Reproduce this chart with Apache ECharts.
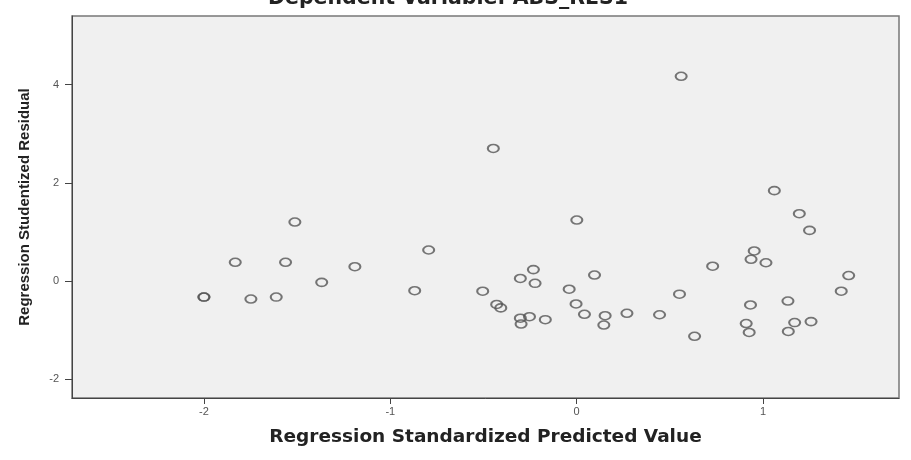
<!DOCTYPE html>
<html>
<head>
<meta charset="utf-8">
<script src="https://cdn.jsdelivr.net/npm/echarts@6/dist/echarts.min.js"></script>
<style>html,body{margin:0;padding:0;background:#fff;}#c{width:911px;height:460px;}</style>
</head>
<body>
<div id="c"></div>
<script>
const titleText = 'Dependent Variable: ABS_RES1';
const xAxisName = 'Regression Standardized Predicted Value';
const yAxisName = 'Regression Studentized Residual';
const xTicks = [-2, -1, 0, 1];
const yTicks = [-2, 0, 2, 4];
const xRange = [-2.708, 1.73];
const yRange = [-2.387, 5.40];
const xValues = [-2.000,-2.000,-1.832,-1.748,-1.612,-1.562,-1.512,-1.368,-1.190,-0.869,
  -0.794,-0.504,-0.447,-0.429,-0.407,-0.302,-0.232,-0.223,-0.302,-0.298,
  -0.253,-0.168,-0.040,-0.003,0.096,0.042,0.153,0.146,0.270,0.445,
  0.552,0.633,0.730,0.001,0.561,1.061,1.195,1.250,0.953,0.936,
  1.016,1.460,1.420,0.933,1.134,0.910,0.926,1.170,1.258,1.136];
const yValues = [-0.33,-0.33,0.38,-0.37,-0.33,0.38,1.20,-0.03,0.29,-0.20,
  0.63,-0.21,2.70,-0.48,-0.55,0.05,0.23,-0.05,-0.76,-0.88,
  -0.73,-0.79,-0.17,-0.47,0.12,-0.68,-0.71,-0.90,-0.66,-0.69,
  -0.27,-1.13,0.30,1.24,4.17,1.84,1.37,1.03,0.61,0.44,
  0.37,0.11,-0.21,-0.49,-0.41,-0.87,-1.05,-0.85,-0.83,-1.03];

const points = xValues.map((x, i) => [x, yValues[i]]);
const chart = echarts.init(document.getElementById('c'));
chart.setOption({
  animation: false,
  backgroundColor: '#ffffff',
  title: {
    text: titleText,
    left: 448,
    textAlign: 'center',
    top: -12,
    padding: 0,
    textStyle: {fontFamily: 'DejaVu Sans', fontWeight: 'bold', fontSize: 20.5, color: '#222'}
  },
  grid: {
    left: 72, right: 12, top: 16, bottom: 62,
    show: true, backgroundColor: '#f0f0f0', borderColor: '#777', borderWidth: 1.5
  },
  xAxis: {
    type: 'value', min: xRange[0], max: xRange[1],
    name: xAxisName, nameLocation: 'middle', nameGap: 30,
    nameTextStyle: {fontFamily: 'DejaVu Sans', fontWeight: 'bold', fontSize: 18.5, color: '#222'},
    axisLine: {show: true, onZero: false, lineStyle: {color: '#444', width: 1}},
    axisTick: {show: true, length: 6, customValues: xTicks, lineStyle: {color: '#444'}},
    axisLabel: {customValues: xTicks, fontFamily: 'Liberation Sans', fontSize: 11, color: '#555', margin: 8},
    splitLine: {show: false}
  },
  yAxis: {
    type: 'value', min: yRange[0], max: yRange[1],
    name: yAxisName, nameLocation: 'middle', nameGap: 40, nameRotate: 90,
    nameTextStyle: {fontFamily: 'Liberation Sans', fontWeight: 'bold', fontSize: 15, color: '#222'},
    axisLine: {show: true, onZero: false, lineStyle: {color: '#444', width: 1}},
    axisTick: {show: true, length: 7, customValues: yTicks, lineStyle: {color: '#444'}},
    axisLabel: {customValues: yTicks, fontFamily: 'Liberation Sans', fontSize: 11, color: '#555', margin: 13},
    splitLine: {show: false}
  },
  series: [{
    type: 'scatter',
    data: points,
    symbol: 'circle',
    symbolSize: [11, 8],
    itemStyle: {color: 'rgba(0,0,0,0)', borderColor: '#555', borderWidth: 1.8}
  }]
});
</script>
</body>
</html>
